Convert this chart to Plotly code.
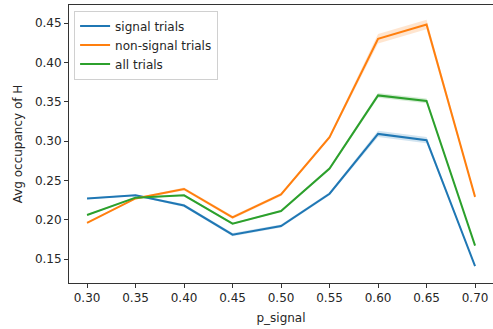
import plotly.graph_objects as go

# p_signal levels on the x axis
p_signal = [0.30, 0.35, 0.40, 0.45, 0.50, 0.55, 0.60, 0.65, 0.70]

# mean occupancy of H per condition
signal_mean = [0.227, 0.231, 0.218, 0.181, 0.192, 0.233, 0.309, 0.301, 0.141]
nonsignal_mean = [0.196, 0.227, 0.239, 0.203, 0.232, 0.305, 0.430, 0.448, 0.229]
all_mean = [0.206, 0.228, 0.231, 0.195, 0.211, 0.265, 0.358, 0.351, 0.167]

# half-width of the confidence band around each mean
signal_ci = [0.001, 0.001, 0.002, 0.002, 0.002, 0.002, 0.004, 0.004, 0.001]
nonsignal_ci = [0.001, 0.001, 0.002, 0.002, 0.002, 0.002, 0.006, 0.006, 0.002]
all_ci = [0.001, 0.001, 0.001, 0.001, 0.001, 0.002, 0.003, 0.003, 0.001]

x_ticks = [0.30, 0.35, 0.40, 0.45, 0.50, 0.55, 0.60, 0.65, 0.70]
y_ticks = [0.15, 0.20, 0.25, 0.30, 0.35, 0.40, 0.45]

series = [
    ("signal trials", signal_mean, signal_ci, "#1f77b4", "rgba(31,119,180,0.2)"),
    ("non-signal trials", nonsignal_mean, nonsignal_ci, "#ff7f0e", "rgba(255,127,14,0.2)"),
    ("all trials", all_mean, all_ci, "#2ca02c", "rgba(44,160,44,0.2)"),
]

fig = go.Figure()

# shaded confidence bands first, so the mean lines sit on top
for name, mean, ci, color, fill in series:
    upper = [m + c for m, c in zip(mean, ci)]
    lower = [m - c for m, c in zip(mean, ci)]
    fig.add_trace(go.Scatter(
        x=p_signal + p_signal[::-1], y=upper + lower[::-1],
        fill="toself", fillcolor=fill, line=dict(width=0),
        mode="lines", showlegend=False, hoverinfo="skip",
    ))

for name, mean, ci, color, fill in series:
    fig.add_trace(go.Scatter(
        x=p_signal, y=mean, mode="lines", name=name,
        line=dict(color=color, width=2),
    ))

font = dict(family="DejaVu Sans", size=12, color="#262626")

fig.update_layout(
    width=493, height=329,
    margin=dict(l=69, r=0, t=5, b=46),
    plot_bgcolor="white", paper_bgcolor="white",
    font=font,
    showlegend=True,
    legend=dict(
        x=0.012, y=0.98, xanchor="left", yanchor="top",
        bgcolor="rgba(255,255,255,0.8)", bordercolor="#d0d0d0", borderwidth=1,
        font=font,
        tracegroupgap=0, itemwidth=30,
    ),
    xaxis=dict(
        range=[0.2814, 0.7185], tickvals=x_ticks, tickformat=".2f",
        showgrid=False, zeroline=False,
        showline=True, linecolor="#333333", linewidth=1, mirror=True,
        ticks="outside", ticklen=4, tickcolor="#333333",
        title=dict(text="p_signal", font=font, standoff=9),
    ),
    yaxis=dict(
        range=[0.1195, 0.4729], tickvals=y_ticks, tickformat=".2f",
        showgrid=False, zeroline=False,
        showline=True, linecolor="#333333", linewidth=1,
        ticks="outside", ticklen=4, tickcolor="#333333",
        title=dict(text="Avg occupancy of H", font=font, standoff=9),
    ),
)

fig.write_html("out.html")
